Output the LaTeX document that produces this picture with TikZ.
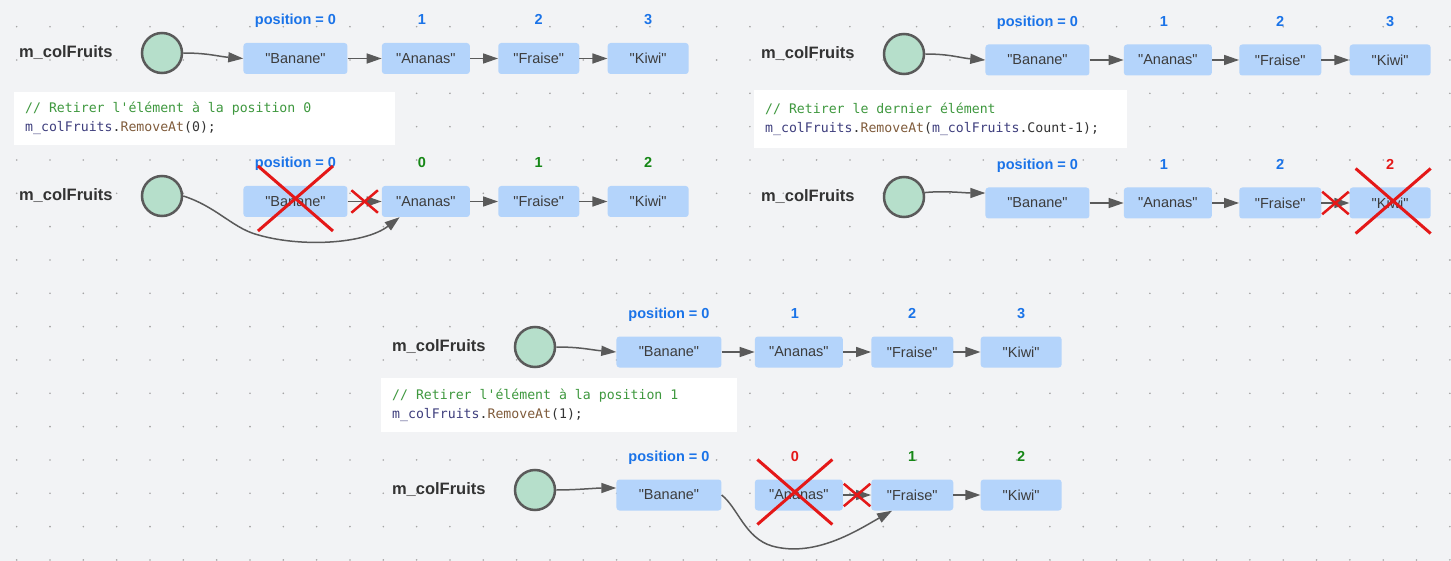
\documentclass[tikz,border=0pt]{standalone}
\usepackage{fontspec}
\setmainfont[Ligatures=TeXOff]{Liberation Sans}
\newfontfamily\codefont[Ligatures=TeXOff]{DejaVu Sans Mono}
\usetikzlibrary{arrows.meta,positioning,shapes.misc}
\definecolor{bggray}{RGB}{242,243,245}
\definecolor{dotgray}{RGB}{165,165,165}
\definecolor{boxblue}{RGB}{180,212,251}
\definecolor{refgreen}{RGB}{182,223,203}
\definecolor{linegray}{RGB}{90,90,90}
\definecolor{txtgray}{RGB}{60,60,60}
\definecolor{posblue}{RGB}{26,115,232}
\definecolor{okgreen}{RGB}{22,135,22}
\definecolor{xred}{RGB}{228,24,24}
\definecolor{cmtgreen}{RGB}{62,152,62}
\definecolor{vargray}{RGB}{62,62,125}
\definecolor{mthbrown}{RGB}{128,92,60}

\begin{document}
\begin{tikzpicture}[x=1pt, y=-1pt,
    fruit/.style={fill=boxblue, rounded corners=3pt, minimum height=31pt, inner sep=0pt, text=txtgray, font=\fontsize{14.5}{17}\selectfont},
    ref/.style={circle, draw=linegray, line width=2.5pt, fill=refgreen, minimum size=40pt, inner sep=0pt},
    listname/.style={inner sep=0pt, text=black!80, font=\bfseries\fontsize{16.5}{19}\selectfont},
    idx/.style={inner sep=0pt, text height=11pt, text depth=3pt, font=\bfseries\fontsize{14.5}{17}\selectfont},
    codebox/.style={fill=white, anchor=north west, inner xsep=11pt, inner ysep=0pt, align=left, text=black!80, font=\codefont\fontsize{13.2}{19}\selectfont, execute at begin node={\spaceskip=7.95pt plus 0pt minus 0pt\relax}},
    arr/.style={draw=linegray, line width=1.5pt, -{Triangle[length=15pt,width=10pt]}},
    bigx/.style={cross out, draw=xred, line width=3pt, minimum width=72pt, minimum height=62pt, inner sep=0pt},
    smallx/.style={cross out, draw=xred, line width=2.5pt, minimum width=24pt, minimum height=20pt, inner sep=0pt}]

	\useasboundingbox (0,0) rectangle (1451,561);
	\fill[bggray] (0,0) rectangle (1451,561);
	\foreach \i in {0,...,43}
		\foreach \j in {0,...,16}
			\fill[dotgray] ({16.67+33.33*\i},{26.67+33.33*\j}) circle (0.9pt);

	% code snippets
	\node[codebox, text width=359pt, minimum height=53pt] (codeA) at (14,92) {\textcolor{cmtgreen}{// Retirer l'élément à la position 0}\\\textcolor{vargray}{m\_colFruits}.\textcolor{mthbrown}{RemoveAt}(0);};
	\node[codebox, text width=351pt, minimum height=58pt] (codeB) at (754,90) {\textcolor{cmtgreen}{// Retirer le dernier élément}\\\textcolor{vargray}{m\_colFruits}.\textcolor{mthbrown}{RemoveAt}(\textcolor{vargray}{m\_colFruits}.Count-1);};
	\node[codebox, text width=334pt, minimum height=54pt] (codeC) at (381,378) {\textcolor{cmtgreen}{// Retirer l'élément à la position 1}\\\textcolor{vargray}{m\_colFruits}.\textcolor{mthbrown}{RemoveAt}(1);};

	% top left, before
	\node[ref] (circA) at (162,53) {};
	\node[listname, left=28pt of circA] (nameA) {m\_colFruits};
	\node[fruit, minimum width=104pt, right=60pt of circA, yshift=-5.5pt] (banA) {"Banane"};
	\node[fruit, minimum width=88pt, right=34pt of banA] (anaA) {"Ananas"};
	\node[fruit, minimum width=81pt, right=28pt of anaA] (fraA) {"Fraise"};
	\node[fruit, minimum width=81pt, right=28pt of fraA] (kiwA) {"Kiwi"};
	\node[idx, text=posblue, above=15pt of banA] (posA0) {position = 0};
	\node[idx, text=posblue, above=15pt of anaA, xshift=-4pt] (posA1) {1};
	\node[idx, text=posblue, above=15pt of fraA] (posA2) {2};
	\node[idx, text=posblue, above=15pt of kiwA] (posA3) {3};
	\draw[arr] (circA.east) .. controls +(25,0) and +(-25,-2) .. (banA.west);
	\draw[arr] (banA) -- (anaA);
	\draw[arr] (anaA) -- (fraA);
	\draw[arr] (fraA) -- (kiwA);

	% top left, after RemoveAt(0)
	\node[ref] (circA2) at (162,196) {};
	\node[listname, left=28pt of circA2] (nameA2) {m\_colFruits};
	\node[fruit, minimum width=104pt, right=60pt of circA2, yshift=-5.5pt] (banA2) {"Banane"};
	\node[fruit, minimum width=88pt, right=34pt of banA2] (anaA2) {"Ananas"};
	\node[fruit, minimum width=81pt, right=28pt of anaA2] (fraA2) {"Fraise"};
	\node[fruit, minimum width=81pt, right=28pt of fraA2] (kiwA2) {"Kiwi"};
	\node[idx, text=posblue, above=15pt of banA2] (posA20) {position = 0};
	\node[idx, text=okgreen, above=15pt of anaA2, xshift=-4pt] (posA21) {0};
	\node[idx, text=okgreen, above=15pt of fraA2] (posA22) {1};
	\node[idx, text=okgreen, above=15pt of kiwA2] (posA23) {2};
	\draw[arr] (banA2) -- node[smallx] {} (anaA2);
	\draw[arr] (anaA2) -- (fraA2);
	\draw[arr] (fraA2) -- (kiwA2);
	\draw[arr] (circA2.east) .. controls (215,206) and (232,227) .. (255,234) .. controls (300,248) and (365,244) .. ([xshift=18pt]anaA2.south west);
	\node[bigx, yshift=3pt] at (banA2) {};

	% top right, before
	\node[ref] (circB) at (904,54) {};
	\node[listname, left=28pt of circB] (nameB) {m\_colFruits};
	\node[fruit, minimum width=104pt, right=60pt of circB, yshift=-6pt] (banB) {"Banane"};
	\node[fruit, minimum width=88pt, right=34pt of banB] (anaB) {"Ananas"};
	\node[fruit, minimum width=82pt, right=27pt of anaB] (fraB) {"Fraise"};
	\node[fruit, minimum width=81pt, right=28pt of fraB] (kiwB) {"Kiwi"};
	\node[idx, text=posblue, above=15pt of banB] (posB0) {position = 0};
	\node[idx, text=posblue, above=15pt of anaB, xshift=-4pt] (posB1) {1};
	\node[idx, text=posblue, above=15pt of fraB] (posB2) {2};
	\node[idx, text=posblue, above=15pt of kiwB] (posB3) {3};
	\draw[arr] (circB.east) .. controls +(25,0) and +(-25,-2) .. (banB.west);
	\draw[arr] (banB) -- (anaB);
	\draw[arr] (anaB) -- (fraB);
	\draw[arr] (fraB) -- (kiwB);

	% top right, after RemoveAt(Count-1)
	\node[ref] (circB2) at (904,197) {};
	\node[listname, left=28pt of circB2] (nameB2) {m\_colFruits};
	\node[fruit, minimum width=104pt, right=60pt of circB2, yshift=-6pt] (banB2) {"Banane"};
	\node[fruit, minimum width=88pt, right=34pt of banB2] (anaB2) {"Ananas"};
	\node[fruit, minimum width=82pt, right=27pt of anaB2] (fraB2) {"Fraise"};
	\node[fruit, minimum width=81pt, right=28pt of fraB2] (kiwB2) {"Kiwi"};
	\node[idx, text=posblue, above=15pt of banB2] (posB20) {position = 0};
	\node[idx, text=posblue, above=15pt of anaB2, xshift=-4pt] (posB21) {1};
	\node[idx, text=posblue, above=15pt of fraB2] (posB22) {2};
	\node[idx, text=xred, above=15pt of kiwB2] (posB23) {2};
	\draw[arr] (circB2.12) .. controls +(20,-2) and +(-20,0) .. ([yshift=10pt]banB2.west);
	\draw[arr] (banB2) -- (anaB2);
	\draw[arr] (anaB2) -- (fraB2);
	\draw[arr] (fraB2) -- node[smallx] {} (kiwB2);
	\node[bigx, xshift=3pt, yshift=2pt] at (kiwB2) {};

	% bottom, before
	\node[ref] (circC) at (535,347) {};
	\node[listname, left=28pt of circC] (nameC) {m\_colFruits};
	\node[fruit, minimum width=105pt, right=60pt of circC, yshift=-5pt] (banC) {"Banane"};
	\node[fruit, minimum width=88pt, right=33pt of banC] (anaC) {"Ananas"};
	\node[fruit, minimum width=82pt, right=28pt of anaC] (fraC) {"Fraise"};
	\node[fruit, minimum width=81pt, right=27pt of fraC] (kiwC) {"Kiwi"};
	\node[idx, text=posblue, above=15pt of banC] (posC0) {position = 0};
	\node[idx, text=posblue, above=15pt of anaC, xshift=-4pt] (posC1) {1};
	\node[idx, text=posblue, above=15pt of fraC] (posC2) {2};
	\node[idx, text=posblue, above=15pt of kiwC] (posC3) {3};
	\draw[arr] (circC.east) .. controls +(25,0) and +(-25,-2) .. (banC.west);
	\draw[arr] (banC) -- (anaC);
	\draw[arr] (anaC) -- (fraC);
	\draw[arr] (fraC) -- (kiwC);

	% bottom, after RemoveAt(1)
	\node[ref] (circC2) at (535,490) {};
	\node[listname, left=28pt of circC2] (nameC2) {m\_colFruits};
	\node[fruit, minimum width=105pt, right=60pt of circC2, yshift=-5pt] (banC2) {"Banane"};
	\node[fruit, minimum width=88pt, right=33pt of banC2] (anaC2) {"Ananas"};
	\node[fruit, minimum width=82pt, right=28pt of anaC2] (fraC2) {"Fraise"};
	\node[fruit, minimum width=81pt, right=27pt of fraC2] (kiwC2) {"Kiwi"};
	\node[idx, text=posblue, above=15pt of banC2] (posC20) {position = 0};
	\node[idx, text=xred, above=15pt of anaC2, xshift=-4pt] (posC21) {0};
	\node[idx, text=okgreen, above=15pt of fraC2] (posC22) {1};
	\node[idx, text=okgreen, above=15pt of kiwC2] (posC23) {2};
	\draw[arr] (circC2.east) .. controls +(20,0) and +(-20,0) .. ([yshift=7pt]banC2.west);
	\draw[arr] (anaC2) -- node[smallx] {} (fraC2);
	\draw[arr] (fraC2) -- (kiwC2);
	\draw[arr] (banC2.east) .. controls (738,508) and (745,538) .. (772,546) .. controls (815,558) and (858,530) .. ([xshift=21pt]fraC2.south west);
	\node[bigx, xshift=-4pt, yshift=3pt] at (anaC2) {};
\end{tikzpicture}
\end{document}
